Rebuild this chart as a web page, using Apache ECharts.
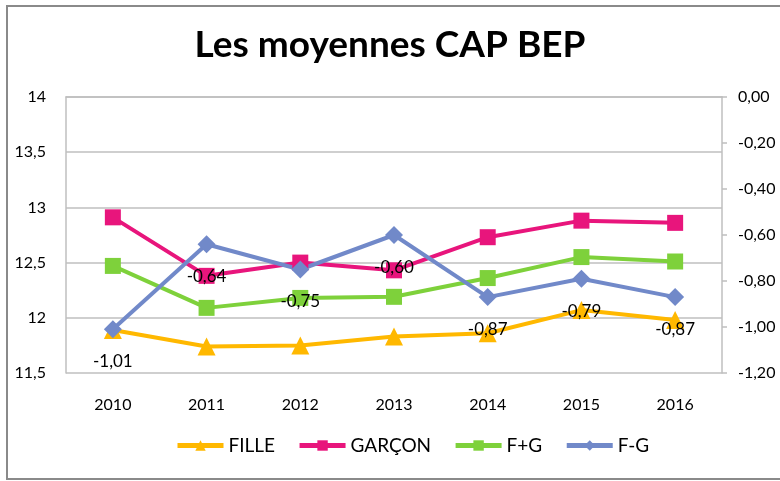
<!DOCTYPE html>
<html>
<head>
<meta charset="utf-8">
<script src="https://cdn.jsdelivr.net/npm/echarts@6/dist/echarts.min.js"></script>
<style>
  html, body { margin: 0; padding: 0; background: #fff; }
  #chart { width: 780px; height: 481px; }
</style>
</head>
<body>
<div id="chart"></div>
<script>
// Années
const years = ['2010', '2011', '2012', '2013', '2014', '2015', '2016'];
// Moyennes (axe de gauche)
const fille  = [11.89, 11.74, 11.75, 11.83, 11.86, 12.07, 11.98];
const garcon = [12.91, 12.38, 12.50, 12.43, 12.73, 12.88, 12.86];
const fPlusG = [12.47, 12.09, 12.18, 12.19, 12.36, 12.55, 12.51];
// Écart filles - garçons (axe de droite)
const fMoinsG = [-1.01, -0.64, -0.75, -0.60, -0.87, -0.79, -0.87];

const FONT = 'Lato';
const comma = (v, d) => v.toFixed(d).replace('.', ',');

const chart = echarts.init(document.getElementById('chart'));

function lineSeries(name, data, color, symbol, size, axis) {
  return {
    name, type: 'line', data, yAxisIndex: axis,
    symbol, symbolSize: size,
    lineStyle: { color, width: 4 },
    itemStyle: { color },
    emphasis: { disabled: true },
    animation: false
  };
}

const fg = lineSeries('F-G', fMoinsG, '#7189C9', 'diamond', 18, 1);
fg.label = {
  show: true, position: 'bottom', distance: 15,
  fontFamily: FONT, fontSize: 17, color: '#000',
  formatter: p => comma(p.value, 2)
};

chart.setOption({
  animation: false,
  title: {
    text: 'Les moyennes CAP BEP',
    left: 'center', top: 22,
    textStyle: { fontFamily: FONT, fontWeight: 'bold', fontSize: 37, color: '#000' }
  },
  graphic: [{
    type: 'rect', shape: { x: 7, y: 6, width: 800, height: 473 },
    style: { fill: null, stroke: '#8a8a8a', lineWidth: 2 }, silent: true, z: -1
  }],
  legend: {
    bottom: 21, left: 170, itemWidth: 46, itemHeight: 13, itemGap: 22,
    lineStyle: { width: 5 },
    textStyle: { fontFamily: FONT, fontSize: 19, color: '#000' },
    data: ['FILLE', 'GARÇON', 'F+G', 'F-G']
  },
  grid: { left: 66, right: 58, top: 97, bottom: 108 },
  xAxis: {
    type: 'category', data: years, boundaryGap: true,
    axisLine: { lineStyle: { color: '#BFBFBF', width: 1.5 } },
    axisTick: { show: false },
    axisLabel: { fontFamily: FONT, fontSize: 16, color: '#000', margin: 24 }
  },
  yAxis: [{
    type: 'value', min: 11.5, max: 14, interval: 0.5,
    axisLine: { show: true, lineStyle: { color: '#BFBFBF', width: 1.5 } },
    axisTick: { show: false },
    splitLine: { lineStyle: { color: '#BFBFBF', width: 1.5 } },
    axisLabel: { fontFamily: FONT, fontSize: 16, color: '#000', margin: 20,
      formatter: v => String(v).replace('.', ',') }
  }, {
    type: 'value', min: -1.2, max: 0, interval: 0.2, position: 'right',
    axisLine: { show: true, lineStyle: { color: '#BFBFBF', width: 1.5 } },
    axisTick: { show: true, inside: false, length: 5, lineStyle: { color: '#BFBFBF', width: 1.5 } },
    splitLine: { show: false },
    axisLabel: { fontFamily: FONT, fontSize: 16, color: '#000', margin: 16,
      formatter: v => comma(v, 2) }
  }],
  series: [
    lineSeries('FILLE', fille, '#FFB800', 'triangle', 18, 0),
    lineSeries('GARÇON', garcon, '#E8157C', 'rect', 16, 0),
    lineSeries('F+G', fPlusG, '#7ED13B', 'rect', 16, 0),
    fg
  ]
});
</script>
</body>
</html>
